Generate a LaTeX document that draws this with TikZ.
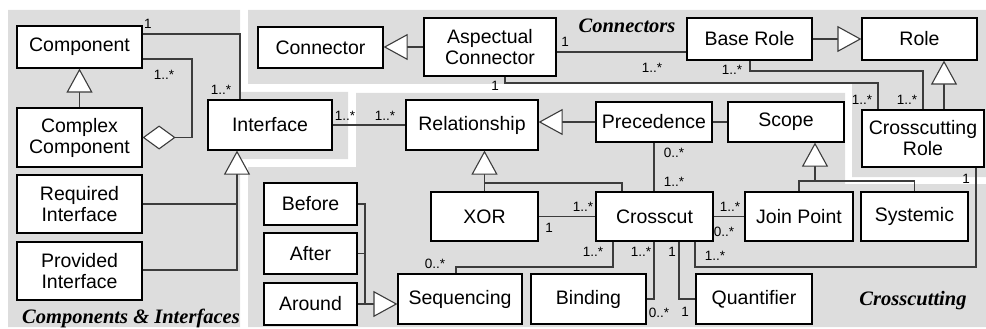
\documentclass[tikz,border=0pt]{standalone}
\usepackage{fontspec}
\setmainfont{Liberation Sans}
\newfontfamily\secfont{Liberation Serif}
\usetikzlibrary{arrows.meta}
\definecolor{bg}{RGB}{221,221,221}
\definecolor{ln}{RGB}{60,60,60}
\begin{document}
\begin{tikzpicture}[x=1pt,y=-1pt,
 box/.style={draw=black, line width=1.2pt, fill=white, align=center, inner sep=0pt, font=\fontsize{19.5}{21}\selectfont},
 assoc/.style={draw=ln, line width=1.1pt},
 gen/.style={assoc, -{Triangle[fill=white,length=24pt,width=26pt]}},
 agg/.style={assoc, {Diamond[fill=white,length=33pt,width=24pt]}-},
 mult/.style={font=\fontsize{13.5}{14}\selectfont, inner sep=0pt},
 sec/.style={font=\secfont\bfseries\itshape\fontsize{20.5}{22}\selectfont, inner sep=0pt}]
\useasboundingbox (0,0) rectangle (986,329);
% background panels
\fill[bg] (8,10) -- (240,10) -- (240,92) -- (348,92) -- (348,159) -- (240,159) -- (240,327) -- (8,327) -- cycle;
\fill[bg] (248,10) -- (986,10) -- (986,177) -- (852,177) -- (852,84) -- (248,84) -- cycle;
\fill[bg] (356,93) -- (845,93) -- (845,184) -- (986,184) -- (986,327) -- (248,327) -- (248,167) -- (356,167) -- cycle;
% boxes
\node[box, minimum width=125pt, minimum height=42pt] (comp) at (79.5,47) {Component};
\node[box, minimum width=125pt, minimum height=59pt] (ccomp) at (79.5,137.5) {Complex\\Component};
\node[box, minimum width=125pt, minimum height=58pt] (reqi) at (79.5,204) {Required\\Interface};
\node[box, minimum width=125pt, minimum height=58pt] (provi) at (79.5,271) {Provided\\Interface};
\node[box, minimum width=124pt, minimum height=50pt] (iface) at (270,125) {Interface};
\node[box, minimum width=125pt, minimum height=41pt] (conn) at (320.5,47.5) {Connector};
\node[box, minimum width=132pt, minimum height=58pt] (aconn) at (490,47) {Aspectual\\Connector};
\node[box, minimum width=125pt, minimum height=42pt] (brole) at (749.5,39) {Base Role};
\node[box, minimum width=115pt, minimum height=42pt] (role) at (919.5,39) {Role};
\node[box, minimum width=122pt, minimum height=57pt] (crole) at (923,138.5) {Crosscutting\\Role};
\node[box, minimum width=132pt, minimum height=50pt] (rel) at (472,125) {Relationship};
\node[box, minimum width=116pt, minimum height=40pt] (prec) at (654,122) {Precedence};
\node[box, minimum width=116pt, minimum height=40pt] (scope) at (786,122) {Scope};
\node[box, minimum width=107pt, minimum height=49pt] (xor) at (484.5,216.5) {XOR};
\node[box, minimum width=117pt, minimum height=49pt] (cross) at (654.5,216.5) {Crosscut};
\node[box, minimum width=108pt, minimum height=49pt] (jp) at (799,216.5) {Join Point};
\node[box, minimum width=107pt, minimum height=49pt] (sys) at (914.5,216.5) {Systemic};
\node[box, minimum width=93pt, minimum height=42pt] (before) at (310.5,204) {Before};
\node[box, minimum width=93pt, minimum height=41pt] (after) at (310.5,253.5) {After};
\node[box, minimum width=93pt, minimum height=42pt] (around) at (310.5,304) {Around};
\node[box, minimum width=124pt, minimum height=50pt] (seq) at (460,299) {Sequencing};
\node[box, minimum width=115pt, minimum height=50pt] (bind) at (588.5,299) {Binding};
\node[box, minimum width=116pt, minimum height=50pt] (quant) at (754,299) {Quantifier};
% bend points
\coordinate (ag) at (192,59);
\coordinate (ci) at (240,34);
\coordinate (ig) at (237,270);
\coordinate (ab) at (600,52);
\coordinate (bc1) at (750,71);
\coordinate (bc2) at (923,71);
\coordinate (ac1) at (505,83);
\coordinate (ac2) at (878,83);
\coordinate (crx) at (944,100);
\coordinate (cx) at (622,183);
\coordinate (cs1) at (613,267);
\coordinate (cs2) at (456,267);
\coordinate (cb) at (654,299);
\coordinate (cq) at (679,299);
\coordinate (sg) at (815,181);
\coordinate (cr1) at (695,267);
\coordinate (cr2) at (976,267);
\coordinate (bv) at (365,304);
% connectors
\draw[gen] (ccomp.north) -- (comp.south);
\draw[agg] (ccomp.east) -- (ccomp.east -| ag) -- (ag) -- (ag -| comp.east);
\draw[assoc] (ci -| comp.east) -- (ci) -- (ci |- iface.north);
\draw[gen] (provi.east |- ig) -- (ig) -- (ig |- iface.south);
\draw[assoc] (reqi.east) -- (reqi.east -| ig);
\draw[assoc] (iface.east) -- (rel.west);
\draw[gen] (aconn.west) -- (aconn.west -| conn.east);
\draw[gen] (brole.east) -- (role.west);
\draw[gen] (crole.north -| crx) -- (role.south -| crx);
\draw[assoc] (aconn.east |- ab) -- (brole.west |- ab);
\draw[assoc] (bc1 |- brole.south) -- (bc1) -- (bc2) -- (bc2 |- crole.north);
\draw[assoc] (ac1 |- aconn.south) -- (ac1) -- (ac2) -- (ac2 |- crole.north);
\draw[gen] (prec.west) -- (prec.west -| rel.east);
\draw[assoc] (prec.east) -- (scope.west);
\draw[assoc] (prec.south) -- (prec.south |- cross.north);
\draw[gen] (xor.north) -- (xor.north |- rel.south);
\draw[assoc] (cx |- cross.north) -- (cx) -- (cx -| xor.north);
\draw[assoc] (xor.east) -- (cross.west);
\draw[assoc] (cs1 |- cross.south) -- (cs1) -- (cs2) -- (cs2 |- seq.north);
\draw[assoc] (cb |- cross.south) -- (cb) -- (bind.east);
\draw[assoc] (cq |- cross.south) -- (cq) -- (quant.west);
\draw[assoc] (cross.east) -- (jp.west);
\draw[gen] (sg) -- (sg |- scope.south);
\draw[assoc] (jp.north) -- (jp.north |- sg) -- (sys.north |- sg) -- (sys.north);
\draw[assoc] (cr1 |- cross.south) -- (cr1) -- (cr2) -- (cr2 |- crole.south);
\draw[gen] (around.east) -- (around.east -| seq.west);
\draw[assoc] (before.east) -| (bv);
\draw[assoc] (after.east) -- (after.east -| bv);
% multiplicities
\node[mult] (m1) at (148,24) {1};
\node[mult] (m2) at (221,90) {1..*};
\node[mult] (m3) at (164,75) {1..*};
\node[mult] (m4) at (345,116) {1..*};
\node[mult] (m5) at (385,116) {1..*};
\node[mult] (m6) at (565,42) {1};
\node[mult] (m7) at (652,68) {1..*};
\node[mult] (m8) at (732,70) {1..*};
\node[mult] (m9) at (907,100) {1..*};
\node[mult] (m10) at (495,86) {1};
\node[mult] (m11) at (862,100) {1..*};
\node[mult] (m12) at (674,153) {0..*};
\node[mult] (m13) at (674,182) {1..*};
\node[mult] (m14) at (583,207) {1..*};
\node[mult] (m15) at (549,228) {1};
\node[mult] (m16) at (593,252) {1..*};
\node[mult] (m17) at (435,264) {0..*};
\node[mult] (m18) at (641,252) {1..*};
\node[mult] (m19) at (659,313) {0..*};
\node[mult] (m20) at (672,252) {1};
\node[mult] (m21) at (685,312) {1};
\node[mult] (m22) at (730,207) {1..*};
\node[mult] (m23) at (724,232) {0..*};
\node[mult] (m24) at (715,256) {1..*};
\node[mult] (m25) at (966,179) {1};
% section titles
\node[sec] (t1) at (131,318) {Components \& Interfaces};
\node[sec] (t2) at (627,26) {Connectors};
\node[sec] (t3) at (913,301) {Crosscutting};
\end{tikzpicture}
\end{document}
